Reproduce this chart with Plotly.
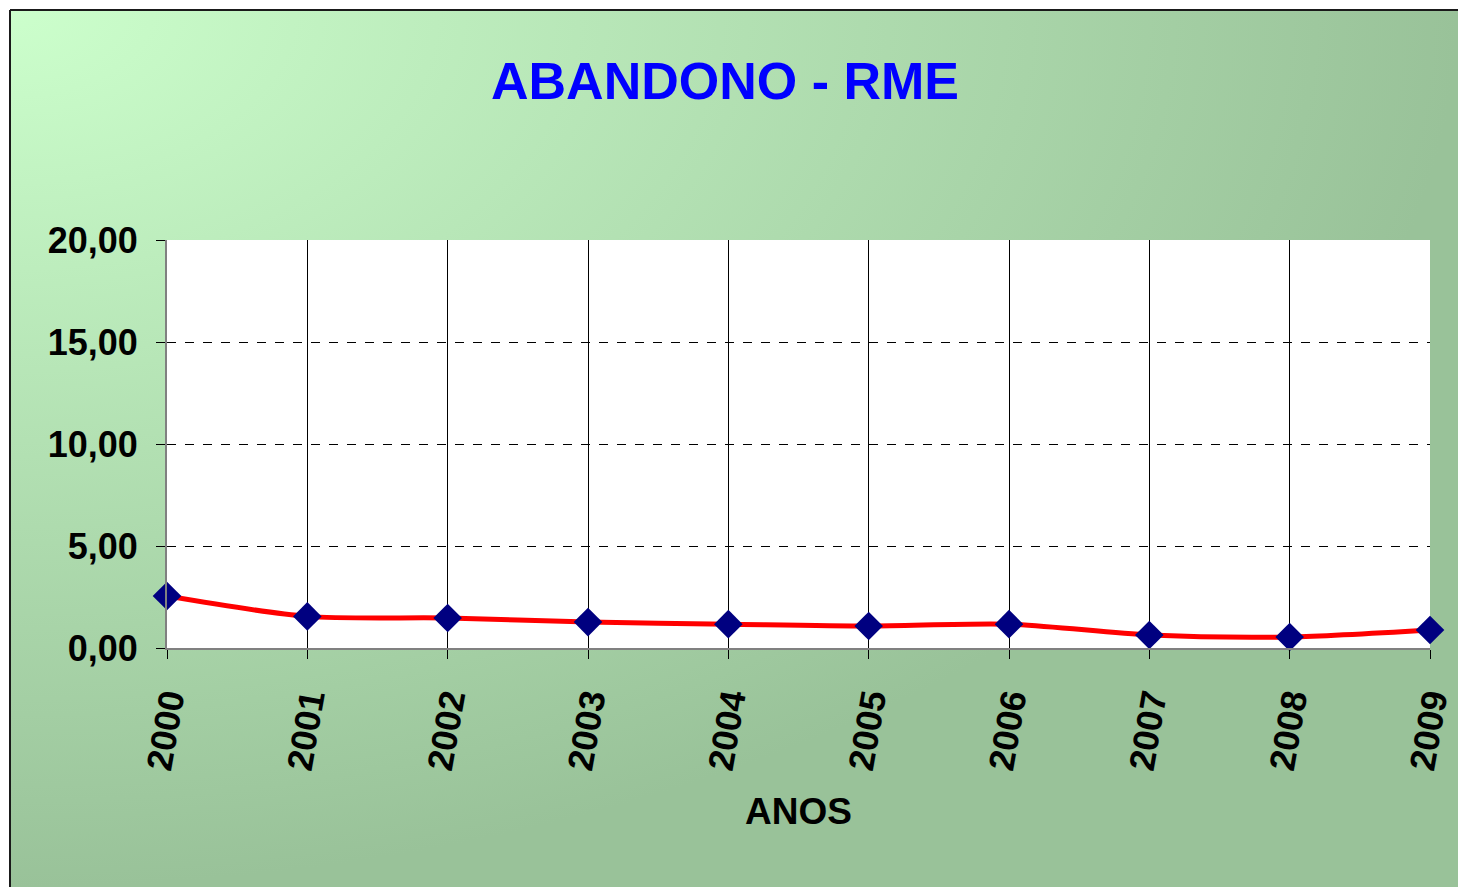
import base64
import plotly.graph_objects as go

# ---- data ----
anos = [2000, 2001, 2002, 2003, 2004, 2005, 2006, 2007, 2008, 2009]
abandono = [2.55, 1.55, 1.47, 1.27, 1.17, 1.08, 1.17, 0.64, 0.54, 0.88]
ano_labels = [str(a) for a in anos]
y_ticks = [0, 5, 10, 15, 20]

W, H = 1458, 887
L, R, T, B = 167, 1430, 240, 648


def px_x(p):
    return (p - L) / (R - L)


def px_y(p):
    return (B - p) / (B - T)


svg = (
    '<svg xmlns="http://www.w3.org/2000/svg" width="200" height="120" preserveAspectRatio="none">'
    '<defs><radialGradient id="g" cx="0" cy="0" r="1" fx="0" fy="0" gradientUnits="objectBoundingBox">'
    '<stop offset="0" stop-color="#ccffcc"/><stop offset="1" stop-color="#99c299"/>'
    '</radialGradient></defs><rect width="200" height="120" fill="url(#g)"/></svg>'
)
src = "data:image/svg+xml;base64," + base64.b64encode(svg.encode()).decode()

fig = go.Figure()
fig.add_trace(go.Scatter(
    x=anos, y=abandono, mode="lines+markers",
    line=dict(color="#ff0000", width=5, shape="spline", smoothing=0.8),
    marker=dict(symbol="diamond", size=22, color="#000080", line=dict(width=0)),
    showlegend=False, cliponaxis=False,
))

font_family = "Arial, Liberation Sans, sans-serif"

fig.update_layout(
    width=W, height=H, autosize=False,
    margin=dict(l=L, r=W - R, t=T, b=H - B, pad=0, autoexpand=False),
    paper_bgcolor="white", plot_bgcolor="white",
    separators=",.",
    font=dict(family=font_family, color="black"),
    title=dict(text="<b>ABANDONO - RME</b>", x=725 / W, xanchor="center",
               y=1 - 81 / H, yanchor="middle", yref="container",
               font=dict(size=52, color="#0000ff", family=font_family)),
    images=[dict(source=src, xref="paper", yref="paper", x=px_x(10), y=px_y(10),
                 sizex=px_x(W) - px_x(10), sizey=px_y(10) - px_y(H),
                 xanchor="left", yanchor="top", sizing="stretch", layer="below")],
    shapes=[
        dict(type="rect", xref="paper", yref="paper", x0=0, x1=1, y0=0, y1=1,
             fillcolor="white", line=dict(width=0), layer="below"),
        dict(type="line", xref="paper", yref="paper", x0=px_x(10), x1=px_x(W + 5),
             y0=px_y(10), y1=px_y(10), line=dict(color="#1a1a1a", width=2), layer="above"),
        dict(type="line", xref="paper", yref="paper", x0=px_x(10), x1=px_x(10),
             y0=px_y(10), y1=px_y(H + 5), line=dict(color="#1a1a1a", width=2), layer="above"),
    ],
)

fig.update_xaxes(
    range=[2000, 2009], tickvals=anos, ticktext=[f"<b>{t}</b>" for t in ano_labels],
    tickangle=-80, tickfont=dict(size=36, family=font_family),
    showgrid=True, gridcolor="black", gridwidth=1,
    showline=True, linecolor="#808080", linewidth=2,
    ticks="outside", ticklen=9, tickcolor="black", tickwidth=1,
    ticklabelstandoff=6, zeroline=False, automargin=False,
    title=dict(text="<b>ANOS</b>", font=dict(size=37, family=font_family), standoff=26),
)
fig.update_yaxes(
    range=[0, 20], tickvals=y_ticks, tickformat=".2f",
    tickfont=dict(size=36, family=font_family, weight="bold"),
    showgrid=True, gridcolor="black", gridwidth=1, griddash="dash",
    showline=True, linecolor="#808080", linewidth=2,
    ticks="outside", ticklen=9, tickcolor="black", tickwidth=1,
    ticklabelstandoff=11, zeroline=False, automargin=False,
)

post = (
    "document.body.style.margin='0';"
    "document.documentElement.style.overflow='hidden';"
    "document.body.style.overflow='hidden';"
)
fig.write_html("out.html", post_script=post,
               config={"displayModeBar": False, "responsive": False})
